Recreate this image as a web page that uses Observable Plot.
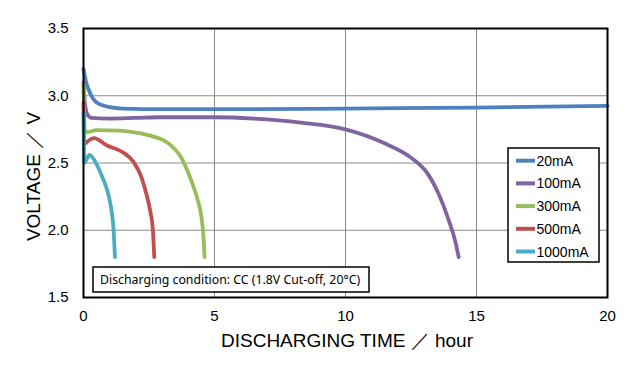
<!DOCTYPE html>
<html>
<head>
<meta charset="utf-8">
<script src="https://cdn.jsdelivr.net/npm/d3@7"></script>
<script src="https://cdn.jsdelivr.net/npm/@observablehq/plot@0.6"></script>
<style>
  html, body { margin: 0; padding: 0; background: #fff; }
  #chart { width: 640px; height: 375px; }
</style>
</head>
<body>
<div id="chart"></div>
<script>
// ---- data ----
const seriesNames = ["20mA", "100mA", "300mA", "500mA", "1000mA"];
const seriesColors = ["#4F81BD", "#8064A2", "#9BBB59", "#C0504D", "#4BACC6"];

const t20 = [0, 0.1, 0.25, 0.5, 1, 1.5, 3, 6, 10, 15, 20];
const v20 = [3.2, 3.1, 3.02, 2.95, 2.915, 2.905, 2.9, 2.9, 2.905, 2.912, 2.925];

const t100 = [0, 0.05, 0.15, 0.3, 1, 2, 3, 5, 6.5, 8.3, 10, 11.45, 12.5, 13.1, 13.6, 13.93, 14.2, 14.32];
const v100 = [3.1, 2.95, 2.86, 2.835, 2.83, 2.835, 2.84, 2.84, 2.83, 2.80, 2.75, 2.65, 2.54, 2.43, 2.25, 2.08, 1.91, 1.8];

const t300 = [0, 0.05, 0.15, 0.5, 1.4, 2, 2.6, 3.05, 3.4, 3.7, 3.95, 4.15, 4.35, 4.5, 4.58, 4.62];
const v300 = [3.08, 2.74, 2.73, 2.745, 2.74, 2.725, 2.70, 2.67, 2.62, 2.55, 2.45, 2.35, 2.23, 2.1, 1.95, 1.8];

const t500 = [0, 0.03, 0.15, 0.4, 0.9, 1.5, 1.9, 2.2, 2.4, 2.55, 2.65, 2.7];
const v500 = [2.95, 2.64, 2.66, 2.685, 2.63, 2.58, 2.51, 2.40, 2.27, 2.14, 2.0, 1.8];

const t1000 = [0, 0.03, 0.1, 0.22, 0.35, 0.55, 0.75, 0.9, 1.05, 1.15, 1.2];
const v1000 = [2.87, 2.5, 2.52, 2.56, 2.54, 2.47, 2.38, 2.3, 2.17, 2.0, 1.8];

const xTicks = [0, 5, 10, 15, 20];
const yTicks = [1.5, 2.0, 2.5, 3.0, 3.5];
const xLabel = "DISCHARGING TIME ／ hour";
const yLabel = "VOLTAGE ／ V";
const note = "Discharging condition: CC (1.8V Cut-off, 20°C)";

// ---- build table ----
const times = [t20, t100, t300, t500, t1000];
const volts = [v20, v100, v300, v500, v1000];
const data = seriesNames.flatMap((name, i) =>
  times[i].map((t, j) => ({series: name, t, v: volts[i][j]}))
);

const colorScale = {domain: seriesNames, range: seriesColors};

const plot = Plot.plot({
  width: 640,
  height: 375,
  marginTop: 28,
  marginLeft: 83,
  marginRight: 33,
  marginBottom: 78,
  style: {fontFamily: "'Liberation Sans', Arial, sans-serif", fontSize: "15px", color: "#000", background: "#fff"},
  x: {domain: [0, 20], ticks: xTicks, label: null},
  y: {domain: [1.5, 3.5], ticks: yTicks, label: null},
  color: colorScale,
  marks: [
    Plot.gridX([5, 10, 15], {stroke: "#8a8a8a", strokeOpacity: 1, strokeWidth: 1}),
    Plot.gridY([2.0, 2.5, 3.0], {stroke: "#8a8a8a", strokeOpacity: 1, strokeWidth: 1}),
    Plot.line(data, {x: "t", y: "v", z: "series", stroke: "series", strokeWidth: 3.8, curve: "monotone-x"}),
    Plot.frame({stroke: "#000", strokeWidth: 2}),
    Plot.axisX(xTicks, {tickSize: 0, tickPadding: 13, fontSize: 15, label: null}),
    Plot.axisY(yTicks, {tickSize: 0, tickPadding: 15, fontSize: 15, tickFormat: d3.format(".1f"), label: null})
  ]
});

document.getElementById("chart").appendChild(plot);

// ---- axis titles, legend and note ----
const svg = d3.select(plot);
const xs = plot.scale("x"), ys = plot.scale("y");
const frameLeft = xs.apply(0), frameRight = xs.apply(20);
const frameBottom = ys.apply(1.5), frameTop = ys.apply(3.5);
const font = "'Liberation Sans', Arial, sans-serif";

svg.append("text")
  .attr("x", (frameLeft + frameRight) / 2 + 2).attr("y", frameBottom + 43).attr("dy", "0.35em")
  .attr("text-anchor", "middle").attr("font-family", font).attr("font-size", 19)
  .text(xLabel);

svg.append("text")
  .attr("transform", `translate(${frameLeft - 50},${(frameTop + frameBottom) / 2 + 14}) rotate(-90)`)
  .attr("dy", "0.35em")
  .attr("text-anchor", "middle").attr("font-family", font).attr("font-size", 19)
  .text(yLabel);

const lg = svg.append("g").attr("transform", `translate(${frameRight - 99},148)`);
lg.append("rect").attr("width", 91).attr("height", 114)
  .attr("fill", "#fff").attr("stroke", "#000").attr("stroke-width", 1.5);
seriesNames.forEach((name, i) => {
  const y = 12.7 + 22.7 * i;
  lg.append("line").attr("x1", 8).attr("x2", 27).attr("y1", y).attr("y2", y)
    .attr("stroke", seriesColors[i]).attr("stroke-width", 4);
  lg.append("text").attr("x", 28.5).attr("y", y).attr("dy", "0.36em")
    .attr("text-anchor", "start")
    .attr("font-family", font).attr("font-size", 14)
    .text(name);
});

const ng = svg.append("g").attr("transform", `translate(${frameLeft + 10},${frameBottom - 30})`);
ng.append("rect").attr("width", 276).attr("height", 25)
  .attr("fill", "#fff").attr("stroke", "#000").attr("stroke-width", 1.5);
ng.append("text").attr("x", 7).attr("y", 13).attr("dy", "0.35em")
  .attr("text-anchor", "start")
  .attr("font-family", "'Noto Sans', 'Open Sans', sans-serif").attr("font-size", 12.3)
  .text(note);
</script>
</body>
</html>
